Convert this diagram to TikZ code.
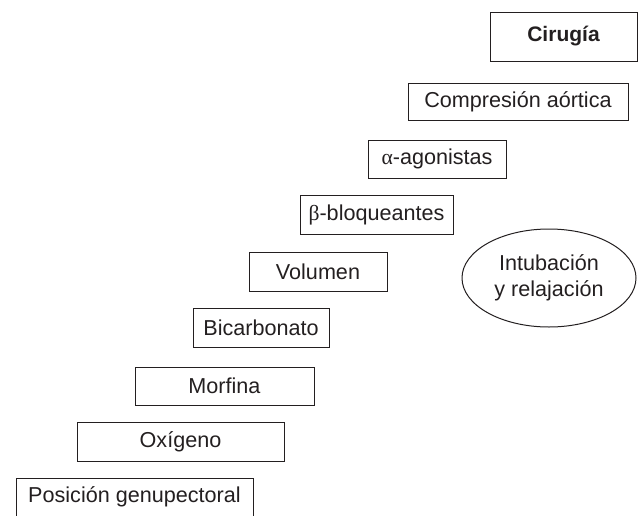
\documentclass[tikz,border=0pt]{standalone}
\usepackage{fontspec}
\setmainfont{Liberation Sans}
\newfontfamily\greekfont{Liberation Serif}
\usetikzlibrary{shapes.geometric}
\definecolor{ink}{HTML}{231F20}
\begin{document}
\begin{tikzpicture}[x=1pt,y=-1pt,
  stepbox/.style={draw=ink,line width=1pt,rectangle,inner sep=0pt,
    minimum width=#1,font=\fontsize{21.6}{26}\selectfont,text=ink},
  oval/.style={draw=ink,line width=1pt,ellipse,inner sep=0pt,
    minimum width=174pt,minimum height=98pt,font=\fontsize{21.6}{26}\selectfont,
    text=ink,align=center}]
\useasboundingbox (0,0) rectangle (638,515);
\clip (0,0) rectangle (638,515);
\node[stepbox=147pt,minimum height=49pt,font=\fontsize{21}{25}\selectfont\bfseries] (cir) at (563.5,36.5) {Cirugía};
\node[stepbox=220pt,minimum height=37pt] (comp) at (518,101.5) {Compresión aórtica};
\node[stepbox=138pt,minimum height=38pt] (alfa) at (437,159) {{\greekfont α}-agonistas};
\node[stepbox=153pt,minimum height=39pt] (beta) at (376.5,214.5) {{\greekfont β}-bloqueantes};
\node[stepbox=138pt,minimum height=39pt] (vol) at (318,271.5) {Volumen};
\node[stepbox=136pt,minimum height=39pt] (bic) at (261,327.5) {Bicarbonato};
\node[stepbox=179pt,minimum height=38pt] (morf) at (224.5,386) {Morfina};
\node[stepbox=207pt,minimum height=39pt] (oxi) at (180.5,441.5) {Oxígeno};
\node[stepbox=237pt,minimum height=38pt] (pos) at (134.5,497) {Posición genupectoral};
\node[oval] (intub) at (549,278) {Intubación\\y relajación};
\end{tikzpicture}
\end{document}
